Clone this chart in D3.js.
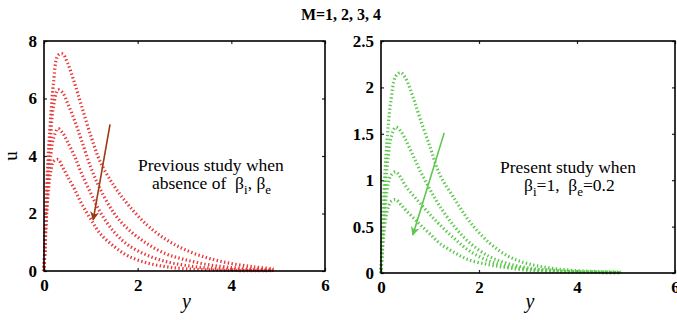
<!DOCTYPE html>
<html>
<head>
<meta charset="utf-8">
<script src="https://cdn.jsdelivr.net/npm/d3@7"></script>
<style>
  body { margin: 0; background: #fff; }
  svg { display: block; }
  .note { white-space: pre; }
</style>
</head>
<body>
<div id="chart"></div>
<script>
'use strict';

// y positions shared by all profiles
var yGrid = [0, 0.02, 0.05, 0.1, 0.15, 0.2, 0.3, 0.4, 0.5, 0.65, 0.8, 1.0, 1.2, 1.5, 1.8, 2.2, 2.6, 3.0, 3.5, 4.0, 4.5, 4.9];

// previous study (no Hall / ion slip), M = 1..4
var prevM1 = [0, 1.0, 2.6, 4.3, 5.5, 6.5, 7.5, 7.55, 7.25, 6.55, 5.75, 4.7, 3.8, 2.95, 2.3, 1.6, 1.1, 0.75, 0.45, 0.26, 0.14, 0.08];
var prevM2 = [0, 0.9, 2.3, 3.8, 4.9, 5.7, 6.3, 6.2, 5.85, 5.25, 4.55, 3.6, 2.85, 2.0, 1.45, 0.95, 0.6, 0.4, 0.22, 0.12, 0.06, 0.04];
var prevM3 = [0, 0.8, 2.0, 3.3, 4.1, 4.6, 4.95, 4.8, 4.5, 4.0, 3.4, 2.7, 2.05, 1.35, 0.9, 0.55, 0.33, 0.2, 0.1, 0.05, 0.03, 0.02];
var prevM4 = [0, 0.7, 1.8, 2.9, 3.5, 3.8, 3.88, 3.6, 3.3, 2.85, 2.35, 1.8, 1.3, 0.85, 0.52, 0.28, 0.15, 0.08, 0.04, 0.02, 0.01, 0.01];

// present study, beta_i = 1, beta_e = 0.2
var presM1 = [0, 0.3, 0.75, 1.25, 1.6, 1.85, 2.12, 2.16, 2.1, 1.9, 1.66, 1.36, 1.06, 0.8, 0.56, 0.33, 0.18, 0.1, 0.05, 0.025, 0.015, 0.01];
var presM2 = [0, 0.25, 0.6, 1.0, 1.27, 1.45, 1.57, 1.53, 1.44, 1.27, 1.1, 0.9, 0.72, 0.5, 0.33, 0.18, 0.1, 0.055, 0.03, 0.015, 0.01, 0.005];
var presM3 = [0, 0.2, 0.5, 0.8, 0.97, 1.05, 1.09, 1.03, 0.94, 0.84, 0.75, 0.63, 0.52, 0.37, 0.24, 0.13, 0.07, 0.04, 0.02, 0.01, 0.005, 0.003];
var presM4 = [0, 0.15, 0.38, 0.6, 0.71, 0.77, 0.79, 0.74, 0.68, 0.6, 0.52, 0.42, 0.32, 0.22, 0.14, 0.09, 0.055, 0.03, 0.02, 0.01, 0.005, 0.003];

var xTicks = [0, 2, 4, 6];
var leftYTicks = [0, 2, 4, 6, 8];
var rightYTicks = [0, 0.5, 1, 1.5, 2, 2.5];

// arrow ends in data units: [y, u] start -> tip
var leftArrow = [[1.41, 5.1], [1.05, 1.78]];
var rightArrow = [[1.29, 1.51], [0.65, 0.41]];

var W = 677, H = 320;
var serif = '"Liberation Serif", "Times New Roman", serif';

var svg = d3.select('#chart').append('svg')
  .attr('width', W)
  .attr('height', H);

svg.append('defs').selectAll('marker')
  .data([['headRed', '#9c3a12'], ['headGreen', '#5cc74c']])
  .enter().append('marker')
  .attr('id', function(d) { return d[0]; })
  .attr('viewBox', '0 0 10 10')
  .attr('refX', 9)
  .attr('refY', 5)
  .attr('markerWidth', 10)
  .attr('markerHeight', 9)
  .attr('markerUnits', 'userSpaceOnUse')
  .attr('orient', 'auto')
  .append('path')
  .attr('d', 'M0,0 L10,5 L0,10 L3,5 Z')
  .attr('fill', function(d) { return d[1]; });

svg.append('text')
  .attr('x', 341)
  .attr('y', 20)
  .attr('text-anchor', 'middle')
  .attr('font-family', serif)
  .attr('font-weight', 'bold')
  .attr('font-size', 16)
  .text('M=1, 2, 3, 4');

function styleTicks(a) {
  a.select('.domain').remove();
  a.selectAll('.tick line').attr('stroke', '#222').attr('stroke-width', 1.2);
  a.selectAll('.tick text')
    .attr('font-family', serif)
    .attr('font-weight', 'bold')
    .attr('font-size', 17)
    .attr('fill', '#000');
}

function panel(setup) {
  var x = d3.scaleLinear().domain([0, 6]).range([setup.left, setup.right]);
  var y = d3.scaleLinear().domain(setup.yDomain).range([setup.bottom, setup.top]);
  var g = svg.append('g');

  // inward ticks on all four sides
  g.append('g')
    .attr('transform', 'translate(0,' + setup.bottom + ')')
    .call(d3.axisBottom(x).tickValues(xTicks).tickSize(-3).tickPadding(6).tickFormat(d3.format('d')))
    .call(styleTicks)
    .selectAll('.tick text').attr('dy', '0.85em');
  g.append('g')
    .attr('transform', 'translate(0,' + setup.top + ')')
    .call(d3.axisTop(x).tickValues(xTicks).tickSize(-3).tickFormat(''))
    .call(styleTicks);
  g.append('g')
    .attr('transform', 'translate(' + setup.left + ',0)')
    .call(d3.axisLeft(y).tickValues(setup.yTicks).tickSize(-3).tickPadding(7).tickFormat(setup.fmt))
    .call(styleTicks);
  g.append('g')
    .attr('transform', 'translate(' + setup.right + ',0)')
    .call(d3.axisRight(y).tickValues(setup.yTicks).tickSize(-3).tickFormat(''))
    .call(styleTicks);

  var line = d3.line()
    .x(function(d, i) { return x(yGrid[i]); })
    .y(function(d) { return y(d); })
    .curve(d3.curveCatmullRom.alpha(0.5));

  g.append('g').selectAll('path')
    .data(setup.series)
    .enter().append('path')
    .attr('d', line)
    .attr('fill', 'none')
    .attr('stroke', setup.color)
    .attr('stroke-width', 3.2)
    .attr('stroke-dasharray', '1.4,2.4');

  g.append('rect')
    .attr('x', setup.left)
    .attr('y', setup.top)
    .attr('width', setup.right - setup.left)
    .attr('height', setup.bottom - setup.top)
    .attr('fill', 'none')
    .attr('stroke', '#000')
    .attr('stroke-width', 1.6);

  g.append('line')
    .attr('x1', x(setup.arrow[0][0]))
    .attr('y1', y(setup.arrow[0][1]))
    .attr('x2', x(setup.arrow[1][0]))
    .attr('y2', y(setup.arrow[1][1]))
    .attr('stroke', setup.arrowColor)
    .attr('stroke-width', 1.6)
    .attr('marker-end', 'url(#' + setup.marker + ')');

  g.append('text')
    .attr('x', (setup.left + setup.right) / 2 + 2)
    .attr('y', 308)
    .attr('text-anchor', 'middle')
    .attr('font-family', serif)
    .attr('font-style', 'italic')
    .attr('font-size', 20)
    .text('y');

  return { x: x, y: y, g: g };
}

var left = panel({
  left: 44, right: 325, top: 41, bottom: 271,
  yDomain: [0, 8], yTicks: leftYTicks, fmt: d3.format('d'),
  series: [prevM1, prevM2, prevM3, prevM4],
  color: '#e8383a', arrow: leftArrow, arrowColor: '#9c3a12', marker: 'headRed'
});

var right = panel({
  left: 381, right: 675, top: 41, bottom: 273,
  yDomain: [0, 2.5], yTicks: rightYTicks, fmt: function(d) { return String(d); },
  series: [presM1, presM2, presM3, presM4],
  color: '#5cc74c', arrow: rightArrow, arrowColor: '#5cc74c', marker: 'headGreen'
});

svg.append('text')
  .attr('transform', 'translate(17,156) rotate(-90)')
  .attr('text-anchor', 'middle')
  .attr('font-family', serif)
  .attr('font-size', 19)
  .text('u');

function note(g, x0, y0, line1, x1, parts) {
  g.append('text')
    .attr('x', x0).attr('y', y0)
    .attr('font-family', serif)
    .attr('font-size', 17.5)
    .text(line1);
  var t = g.append('text')
    .attr('class', 'note')
    .attr('x', x1).attr('y', y0 + 18)
    .attr('font-family', serif)
    .attr('font-size', 17.5);
  parts.forEach(function(p) {
    t.append('tspan')
      .attr('dy', p[1] ? 5 : (p[2] ? -5 : 0))
      .attr('font-size', p[1] ? 13 : 17.5)
      .text(p[0]);
  });
}

note(left.g, 138, 171, 'Previous study when', 152,
  [['absence of  \u03b2'], ['i', true], [', \u03b2', false, true], ['e', true]]);
note(right.g, 500, 173, 'Present study when', 524,
  [['\u03b2'], ['i', true], ['=1,  \u03b2', false, true], ['e', true], ['=0.2', false, true]]);
</script>
</body>
</html>
